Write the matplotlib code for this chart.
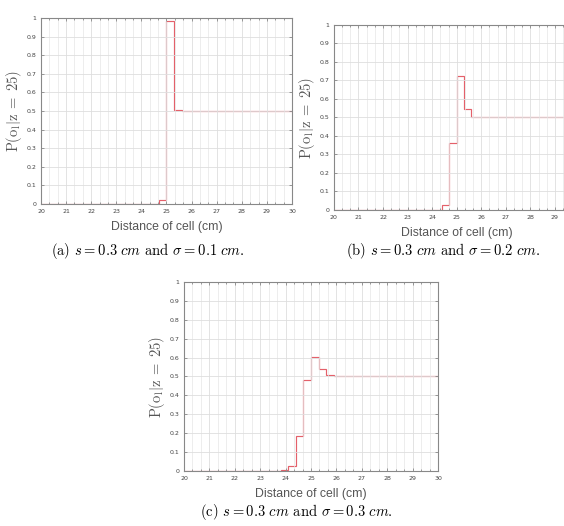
import matplotlib
matplotlib.use('Agg')
from matplotlib import pyplot as plt
from matplotlib.ticker import AutoMinorLocator

plt.rcParams['mathtext.fontset'] = 'cm'

# cell edges (cm) and probability per cell for each sigma
edges_a = [20, 24.7, 25.0, 25.3, 25.6, 30]
probs_a = [0, 0.02, 0.985, 0.505, 0.5]

edges_b = [20, 24.4, 24.7, 25.0, 25.3, 25.6, 30]
probs_b = [0, 0.025, 0.36, 0.725, 0.545, 0.5]

edges_c = [20, 23.8, 24.1, 24.4, 24.7, 25.0, 25.3, 25.6, 25.9, 30]
probs_c = [0, 0.003, 0.028, 0.183, 0.48, 0.605, 0.541, 0.508, 0.5]

xticks = [20, 21, 22, 23, 24, 25, 26, 27, 28, 29, 30]
yticks = [0, 0.1, 0.2, 0.3, 0.4, 0.5, 0.6, 0.7, 0.8, 0.9, 1]
ytick_labels = ['0', '0.1', '0.2', '0.3', '0.4', '0.5', '0.6', '0.7', '0.8', '0.9', '1']

captions = [r'(a) $s = 0.3\ cm$ and $\sigma = 0.1\ cm$.',
            r'(b) $s = 0.3\ cm$ and $\sigma = 0.2\ cm$.',
            r'(c) $s = 0.3\ cm$ and $\sigma = 0.3\ cm$.']

fig = plt.figure(figsize=(5.64, 5.26), dpi=100)


def panel(rect, edges, probs, show_last=True):
    ax = fig.add_axes(rect)
    ax.stairs(probs, edges, baseline=None, color='#e4606a', linewidth=0.85)
    ax.set_xlim(20, 30)
    ax.set_ylim(0, 1)
    ax.set_xticks(xticks)
    labels = [str(t) for t in xticks]
    if not show_last:
        labels[-1] = ''
    ax.set_xticklabels(labels)
    ax.xaxis.set_minor_locator(AutoMinorLocator(3))
    ax.set_yticks(yticks)
    ax.set_yticklabels(ytick_labels)
    ax.grid(True, which='major', color='#dedede', linewidth=0.6)
    ax.grid(True, which='minor', axis='x', color='#e6e6e6', linewidth=0.5)
    ax.tick_params(which='both', direction='in', top=True, right=True,
                   length=2, width=0.5, color='#777777',
                   labelsize=4.5, labelcolor='#444444', pad=3.5)
    ax.tick_params(which='minor', length=1.2)
    for s in ax.spines.values():
        s.set_color('#888888')
        s.set_linewidth(0.8)
        s.set_zorder(3)
    ax.set_xlabel('Distance of cell (cm)', fontsize=8.8, color='#555555',
                  family='Liberation Sans', labelpad=5)
    ax.set_ylabel(r'$\mathrm{P(o_l|z\;=\;25)}$', fontsize=10.5,
                  color='#555555', labelpad=1.5)
    return ax


ax_a = panel([0.0727, 0.6122, 0.445, 0.3536], edges_a, probs_a)
ax_b = panel([0.592, 0.6008, 0.4355, 0.3517], edges_b, probs_b, show_last=False)
ax_c = panel([0.3262, 0.1046, 0.4504, 0.3593], edges_c, probs_c)

fig.text(0.262, 0.522, captions[0], fontsize=10.5, family='cmr10',
         ha='center', va='center')
fig.text(0.785, 0.522, captions[1], fontsize=10.5, family='cmr10',
         ha='center', va='center')
fig.text(0.525, 0.027, captions[2], fontsize=10.5, family='cmr10',
         ha='center', va='center')

fig.savefig('out.png', dpi=100)
plt.close()
